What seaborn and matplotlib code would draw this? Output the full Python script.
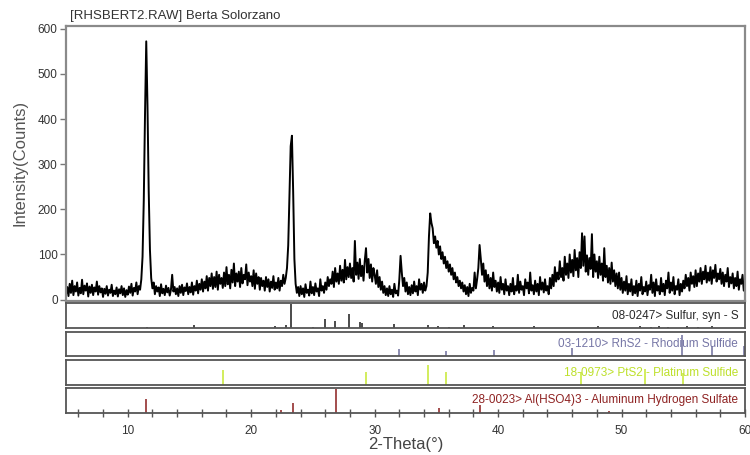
"""XRD pattern of sample RHSBERT2 with reference stick patterns below."""

import matplotlib.pyplot as plt
import numpy as np
import pandas as pd
import seaborn as sns
from matplotlib.ticker import MultipleLocator

# Measured intensity (counts), one value every 0.1 deg from 5.0 to 60.0 (2-theta)
intensity = [
    12, 28, 8, 35, 15, 42, 10, 30, 18, 38,          # 5
    9, 26, 14, 44, 12, 31, 20, 36, 7, 29,           # 6
    15, 33, 10, 27, 18, 40, 11, 30, 16, 25,         # 7
    6, 24, 13, 30, 9, 22, 15, 33, 8, 20,            # 8
    12, 27, 7, 23, 14, 30, 10, 25, 6, 21,           # 9
    11, 29, 15, 35, 9, 26, 18, 38, 12, 30,          # 10
    22, 45, 95, 220, 410, 572, 430, 240, 110, 48,   # 11
    25, 38, 12, 30, 18, 27, 8, 34, 14, 24,          # 12
    10, 31, 16, 26, 9, 22, 55, 18, 28, 12,          # 13
    25, 8, 30, 15, 33, 10, 27, 19, 36, 12,          # 14
    28, 16, 38, 11, 30, 20, 42, 14, 35, 22,         # 15
    45, 18, 40, 25, 52, 20, 48, 30, 58, 24,         # 16
    50, 28, 62, 22, 55, 35, 48, 26, 60, 30,         # 17
    72, 34, 55, 25, 66, 38, 80, 30, 58, 40,         # 18
    62, 28, 70, 36, 55, 45, 78, 32, 60, 40,         # 19
    52, 30, 65, 24, 58, 35, 50, 22, 48, 30,         # 20
    42, 20, 50, 28, 45, 18, 40, 26, 52, 22,         # 21
    38, 25, 48, 20, 42, 30, 55, 35, 48, 70,         # 22
    120, 230, 340, 363, 240, 90, 35, 15, 28, 8,     # 23
    30, 12, 25, 6, 34, 15, 22, 9, 40, 14,           # 24
    28, 10, 36, 18, 25, 8, 45, 20, 30, 15,          # 25
    38, 22, 50, 30, 45, 35, 62, 28, 70, 40,         # 26
    58, 35, 75, 42, 66, 38, 88, 45, 72, 50,         # 27
    80, 48, 70, 40, 130, 55, 82, 46, 90, 52,        # 28
    75, 42, 86, 114, 60, 90, 48, 78, 40, 70,        # 29
    55, 35, 65, 28, 50, 22, 40, 15, 30, 10,         # 30
    25, 8, 30, 12, 22, 6, 35, 14, 20, 9,            # 31
    45, 97, 60, 30, 48, 18, 38, 12, 28, 10,         # 32
    32, 14, 40, 18, 30, 10, 45, 22, 35, 15,         # 33
    38, 20, 30, 60, 140, 191, 170, 158, 125, 140,   # 34
    115, 130, 100, 118, 90, 105, 80, 95, 70, 85,    # 35
    62, 78, 55, 70, 45, 60, 38, 50, 30, 42,         # 36
    25, 38, 18, 32, 12, 28, 8, 35, 15, 26,          # 37
    20, 60, 25, 45, 70, 121, 90, 55, 80, 40,        # 38
    65, 30, 55, 25, 48, 20, 60, 28, 42, 18,         # 39
    38, 15, 50, 22, 35, 12, 45, 20, 30, 10,         # 40
    35, 18, 48, 12, 30, 20, 55, 15, 40, 22,         # 41
    30, 10, 45, 25, 38, 14, 60, 20, 32, 12,         # 42
    42, 18, 35, 10, 50, 22, 38, 16, 45, 20,         # 43
    30, 12, 48, 25, 55, 30, 72, 40, 60, 45,         # 44
    85, 50, 70, 42, 95, 55, 80, 48, 100, 60,        # 45
    88, 52, 110, 65, 92, 50, 105, 70, 147, 75,      # 46
    140, 62, 98, 55, 92, 68, 145, 50, 100, 62,      # 47
    85, 48, 95, 55, 80, 42, 114, 50, 75, 38,        # 48
    70, 35, 82, 40, 65, 30, 58, 25, 60, 22,         # 49
    48, 15, 40, 20, 52, 12, 35, 18, 45, 10,         # 50
    30, 14, 42, 8, 35, 20, 50, 12, 28, 18,          # 51
    40, 10, 32, 22, 55, 15, 38, 8, 45, 20,          # 52
    30, 12, 48, 18, 35, 10, 42, 25, 60, 15,         # 53
    38, 20, 50, 12, 30, 22, 45, 10, 35, 18,         # 54
    42, 25, 55, 30, 48, 20, 60, 35, 52, 28,         # 55
    65, 30, 58, 40, 70, 35, 62, 45, 75, 38,         # 56
    60, 42, 72, 35, 65, 48, 77, 40, 58, 45,         # 57
    68, 35, 60, 30, 55, 40, 70, 28, 50, 36,         # 58
    58, 25, 48, 30, 62, 22, 45, 35, 55, 20,         # 59
    40,                                             # 60
]
two_theta = np.round(np.linspace(5.0, 60.0, len(intensity)), 1)

# Reference patterns (position in deg, relative intensity in %)
sulfur_pos = [11.6, 15.4, 21.9, 22.8, 23.2, 25.0, 26.0, 26.8, 27.9, 28.8, 29.0,
              31.6, 34.3, 35.1, 36.0, 37.2, 39.6, 42.9, 48.1, 51.5, 52.4, 53.0,
              53.8, 55.3, 56.2, 57.3]
sulfur_int = [5, 12, 8, 14, 100, 6, 36, 29, 60, 25, 20,
              17, 14, 10, 6, 14, 10, 8, 8, 8, 6, 8,
              6, 8, 6, 8]
rhs2_pos = [32.0, 35.8, 39.7, 46.0, 54.9, 57.3, 59.9]
rhs2_int = [30, 22, 28, 35, 90, 45, 45]
pts2_pos = [17.7, 29.3, 34.3, 35.8, 46.7, 51.9, 55.0]
pts2_int = [62, 55, 85, 55, 55, 68, 48]
al_pos = [11.5, 22.4, 23.4, 26.9, 35.2, 38.5, 49.0]
al_int = [60, 12, 40, 100, 22, 33, 8]

phases = [
    ("08-0247> Sulfur, syn - S", sulfur_pos, sulfur_int, "#1a1a1a", "#2a2a2a"),
    ("03-1210> RhS2 - Rhodium Sulfide", rhs2_pos, rhs2_int, "#6e6e9c", "#7676a6"),
    ("18-0973> PtS2 - Platinum Sulfide", pts2_pos, pts2_int, "#c6e830", "#bde02a"),
    ("28-0023> Al(HSO4)3 - Aluminum Hydrogen Sulfate", al_pos, al_int,
     "#8a1c1c", "#8e2222"),
]

sns.set_theme(style="white")
plt.rcParams["font.family"] = ["Liberation Sans", "DejaVu Sans"]

W, H = 750, 455
fig = plt.figure(figsize=(W / 100, H / 100), dpi=100)

left, right = 66 / W, 745 / W
ax = fig.add_axes([left, 1 - 301 / H, right - left, (301 - 26) / H])

df = pd.DataFrame({"two_theta": two_theta, "intensity": intensity})
sns.lineplot(data=df, x="two_theta", y="intensity", ax=ax, color="black",
             linewidth=1.4, estimator=None)
ax.set_xlim(5, 60)
ax.set_ylim(-3, 606)
ax.set_yticks(range(0, 601, 100))
ax.set_xticks([])
ax.set_xlabel("")
ax.set_ylabel("")
ax.tick_params(axis="y", direction="out", length=4, width=1, color="#777777",
               labelsize=8.5, labelcolor="#333333", pad=2, left=True)
for s in ax.spines.values():
    s.set_color("#8a8a8a")
    s.set_linewidth(1.6)

fig.text(70 / W, 1 - 16 / H, "[RHSBERT2.RAW] Berta Solorzano", fontsize=9.5,
         color="#333333", va="center", ha="left")
fig.text(20 / W, 1 - 163 / H, "Intensity(Counts)", fontsize=12, color="#555555",
         rotation=90, va="center", ha="center")
fig.text((left + right) / 2, 1 - 445 / H, "2-Theta(°)", fontsize=12,
         color="#444444", va="center", ha="center")

# stick panels
panel_rows = [(303, 328), (332, 356), (360, 385), (388, 413)]
for (label, pos, inten, stick_color, text_color), (top, bot) in zip(phases, panel_rows):
    pax = fig.add_axes([left, 1 - bot / H, right - left, (bot - top) / H])
    pax.vlines(pos, 0, inten, color=stick_color, linewidth=1.1)
    pax.set_xlim(5, 60)
    pax.set_ylim(0, 104)
    pax.set_yticks([])
    pax.set_xticks([])
    for s in pax.spines.values():
        s.set_color("#555555")
        s.set_linewidth(1.3)
    pax.text(0.99, 0.5, label, transform=pax.transAxes, ha="right", va="center",
             fontsize=8.5, color=text_color)

# x axis only on the last panel
pax.xaxis.set_major_locator(MultipleLocator(10))
pax.xaxis.set_minor_locator(MultipleLocator(2))
pax.tick_params(axis="x", which="both", direction="inout", length=6, width=1,
                color="#555555", bottom=True, labelsize=8.5, labelcolor="#333333",
                pad=6)

fig.savefig("out.png", dpi=100)
